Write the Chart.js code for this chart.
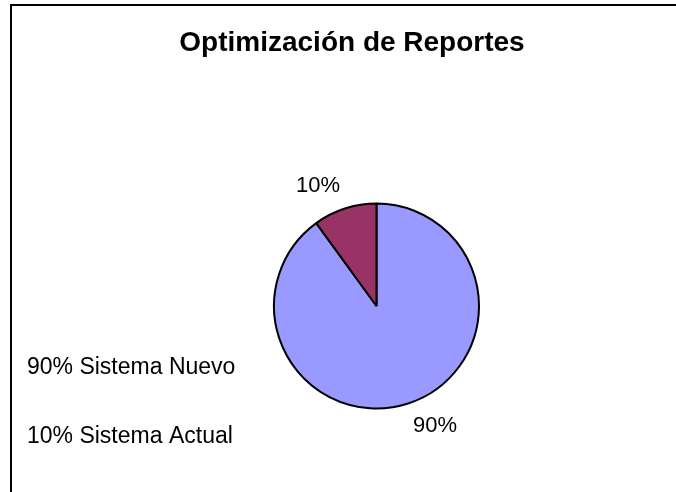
<!DOCTYPE html>
<html>
<head>
<meta charset="utf-8">
<title>Optimización de Reportes</title>
<script src="https://cdn.jsdelivr.net/npm/chart.js@4/dist/chart.umd.min.js"></script>
<style>
  html, body { margin: 0; padding: 0; background: #fff; overflow: hidden; }
  #wrap { position: relative; width: 676px; height: 492px; }
  #frame { position: absolute; left: 10px; top: 4px; width: 720px; height: 540px; border: 2px solid #000; }
  canvas { position: absolute; left: 0; top: 0; }
</style>
</head>
<body>
<div id="wrap">
  <div id="frame"></div>
  <canvas id="pie" width="676" height="492"></canvas>
</div>
<script>
var titleText = 'Optimización de Reportes';
var categories = ['Sistema Nuevo', 'Sistema Actual'];
var shares = [90, 10];
var sliceColors = ['#9999FF', '#993366'];

var FONT = "Arial, 'Liberation Sans', sans-serif";

function pct(v) {
  var total = shares.reduce(function(a, b) { return a + b; }, 0);
  return Math.round(v / total * 100) + '%';
}

// Excel-style title, outside labels and a text-only legend on the left.
// The title is drawn here because the built-in one gets squeezed into the
// narrow padded box that places the pie off-centre.
var pieText = {
  id: 'pieText',
  afterDatasetsDraw: function(chart) {
    var ctx = chart.ctx;
    var meta = chart.getDatasetMeta(0);
    ctx.save();
    ctx.fillStyle = '#000';
    ctx.textAlign = 'center';
    ctx.textBaseline = 'middle';

    ctx.font = 'bold 28px ' + FONT;
    ctx.fillText(titleText, 352, 43);

    ctx.font = '22px ' + FONT;
    meta.data.forEach(function(arc, i) {
      var p = arc.getProps(['x', 'y', 'startAngle', 'endAngle', 'outerRadius'], true);
      var a = (p.startAngle + p.endAngle) / 2 - 8 * Math.PI / 180;
      var d = p.outerRadius + 31;
      ctx.fillText(pct(shares[i]), p.x + Math.cos(a) * d, p.y + Math.sin(a) * d);
    });

    ctx.textAlign = 'left';
    ctx.font = '23px ' + FONT;
    categories.forEach(function(c, i) {
      ctx.fillText(pct(shares[i]) + ' ' + c, 27, 368 + i * 69);
    });
    ctx.restore();
  }
};

new Chart(document.getElementById('pie').getContext('2d'), {
  type: 'pie',
  data: {
    labels: categories,
    datasets: [{
      data: shares,
      backgroundColor: sliceColors,
      borderColor: '#000',
      borderWidth: 2,
      radius: 102.5
    }]
  },
  options: {
    responsive: false,
    animation: false,
    events: [],
    layout: { padding: { top: 200, bottom: 80, left: 270, right: 193 } },
    plugins: {
      legend: { display: false },
      tooltip: { enabled: false },
      title: { display: false }
    }
  },
  plugins: [pieText]
});
</script>
</body>
</html>
